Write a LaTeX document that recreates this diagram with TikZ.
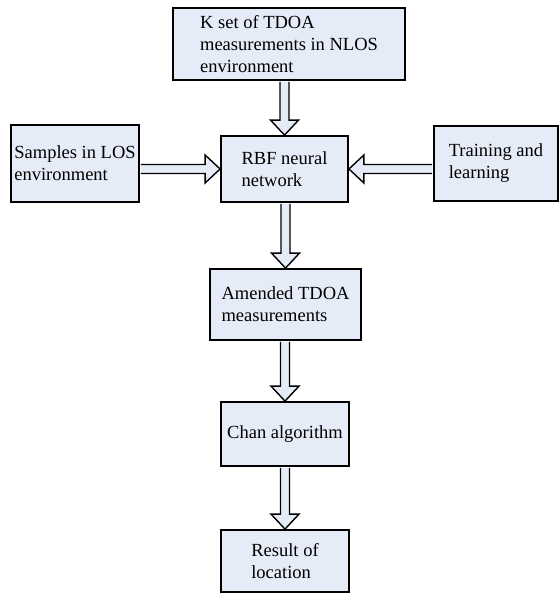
\documentclass[tikz,border=0pt]{standalone}
\usepackage{fontspec}
\setmainfont{Liberation Serif}
\usepackage{tikz}
\usetikzlibrary{calc}
\usepackage{xcolor}
\definecolor{boxfill}{RGB}{230,236,247}

\newcommand{\flowarrow}[2]{%
  \coordinate (s) at (#1);
  \coordinate (t) at (#2);
  \coordinate (p) at ($(s)!1pt!(t)$);
  \coordinate (h) at ($(t)!15pt!(p)$);
  \draw[blockarrow] ($(p)!4.5pt!90:(t)$) -- ($(h)!4.5pt!90:(t)$) -- ($(h)!14pt!90:(t)$) -- (t)
    -- ($(h)!14pt!-90:(t)$) -- ($(h)!4.5pt!-90:(t)$) -- ($(p)!4.5pt!-90:(t)$);
}

\begin{document}
\begin{tikzpicture}[font=\fontsize{18.5}{22}\selectfont,
  flowbox/.style={draw,line width=1.8pt,fill=boxfill,align=left,inner sep=2pt},
  blockarrow/.style={draw,line width=1.4pt,fill=boxfill,line join=miter}]
\useasboundingbox (0,0) rectangle (559pt,-594pt);
\node[flowbox,minimum width=232pt,minimum height=72pt] (nlos) at (289pt,-44pt) {K set of TDOA\\measurements in NLOS\\environment};
\node[flowbox,minimum width=128pt,minimum height=77pt] (los) at (75pt,-163.5pt) {Samples in LOS\\environment};
\node[flowbox,minimum width=127pt,minimum height=66pt] (rbf) at (284.5pt,-169pt) {RBF neural\\network};
\node[flowbox,minimum width=124pt,minimum height=75pt] (train) at (496pt,-163.5pt) {Training and\\learning};
\node[flowbox,minimum width=151pt,minimum height=71pt] (amend) at (285.5pt,-304.5pt) {Amended TDOA\\measurements};
\node[flowbox,minimum width=128pt,minimum height=64pt] (chan) at (285pt,-434pt) {Chan algorithm};
\node[flowbox,minimum width=128pt,minimum height=62pt] (result) at (285pt,-561pt) {Result of\\location};
% block arrows between the boxes
\flowarrow{nlos.south -| rbf.north}{rbf.north}
\flowarrow{los.east |- rbf.west}{rbf.west}
\flowarrow{train.west |- rbf.east}{rbf.east}
\flowarrow{rbf.south -| amend.north}{amend.north}
\flowarrow{amend.south -| chan.north}{chan.north}
\flowarrow{chan.south}{result.north}
\end{tikzpicture}
\end{document}
